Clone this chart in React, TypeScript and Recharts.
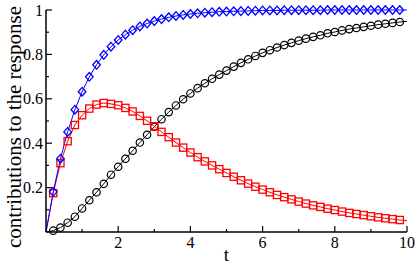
import React from "react";
import { LineChart, Line, XAxis, YAxis } from "recharts";

// time axis, step 0.2 (markers are drawn from 0.2 to 9.8)
const tValues = [
  0, 0.2, 0.4, 0.6, 0.8, 1, 1.2, 1.4, 1.6, 1.8, 2, 2.2, 2.4, 2.6, 2.8, 3, 3.2,
  3.4, 3.6, 3.8, 4, 4.2, 4.4, 4.6, 4.8, 5, 5.2, 5.4, 5.6, 5.8, 6, 6.2, 6.4, 6.6,
  6.8, 7, 7.2, 7.4, 7.6, 7.8, 8, 8.2, 8.4, 8.6, 8.8, 9, 9.2, 9.4, 9.6, 9.8, 10,
];

// blue diamonds - total response
const blueValues = [
  0, 0.181, 0.33, 0.451, 0.551, 0.632, 0.699, 0.753, 0.798, 0.835, 0.865, 0.889,
  0.909, 0.926, 0.939, 0.95, 0.959, 0.967, 0.973, 0.978, 0.982, 0.985, 0.988,
  0.99, 0.992, 0.993, 0.994, 0.995, 0.996, 0.997, 0.998, 0.998, 0.998, 0.999,
  0.999, 0.999, 0.999, 0.999, 0.999, 1, 1, 1, 1, 1, 1, 1, 1, 1, 1, 1, 1,
];

// red squares
const redValues = [
  0, 0.175, 0.31, 0.409, 0.482, 0.526, 0.556, 0.574, 0.581, 0.577, 0.571, 0.559,
  0.543, 0.523, 0.501, 0.476, 0.451, 0.427, 0.403, 0.38, 0.358, 0.337, 0.318,
  0.3, 0.283, 0.266, 0.249, 0.233, 0.218, 0.204, 0.191, 0.179, 0.167, 0.157,
  0.147, 0.137, 0.128, 0.12, 0.113, 0.105, 0.099, 0.092, 0.086, 0.081, 0.076,
  0.071, 0.066, 0.062, 0.058, 0.054, 0.051,
];

// black circles
const blackValues = [
  0, 0.006, 0.02, 0.042, 0.069, 0.106, 0.143, 0.179, 0.217, 0.258, 0.294, 0.33,
  0.366, 0.403, 0.438, 0.474, 0.508, 0.54, 0.57, 0.598, 0.624, 0.648, 0.67,
  0.69, 0.709, 0.727, 0.745, 0.762, 0.778, 0.793, 0.807, 0.819, 0.831, 0.842,
  0.852, 0.862, 0.871, 0.879, 0.886, 0.895, 0.901, 0.908, 0.914, 0.919, 0.924,
  0.929, 0.934, 0.938, 0.942, 0.946, 0.949,
];

const xTicks = [1, 2, 3, 4, 5, 6, 7, 8, 9, 10];
const xTickLabels = [2, 4, 6, 8, 10];
const yTicks = [0.1, 0.2, 0.3, 0.4, 0.5, 0.6, 0.7, 0.8, 0.9, 1];
const yTickLabels = [0.2, 0.4, 0.6, 0.8, 1];

const FONT = "Liberation Serif, Times New Roman, DejaVu Serif, serif";
const textStyle = { fontFamily: FONT };

const data = tValues.map((t, i) => ({
  t,
  blue: blueValues[i],
  red: redValues[i],
  black: blackValues[i],
}));

const noMarker = (p: any) => !p.payload || p.payload.t === 0 || p.payload.t === 10;

const Diamond = (p: any) => {
  if (noMarker(p)) return <g key={p.index} />;
  const { cx, cy } = p;
  return (
    <polygon
      key={p.index}
      points={`${cx},${cy - 4.3} ${cx + 3.8},${cy} ${cx},${cy + 4.3} ${cx - 3.8},${cy}`}
      fill="none"
      stroke="#0000ff"
      strokeWidth={1.3}
    />
  );
};

const Square = (p: any) => {
  if (noMarker(p)) return <g key={p.index} />;
  return (
    <rect
      key={p.index}
      x={p.cx - 3.6}
      y={p.cy - 3.6}
      width={7.2}
      height={7.2}
      fill="none"
      stroke="#ff0000"
      strokeWidth={1.3}
    />
  );
};

const Circle = (p: any) => {
  if (noMarker(p)) return <g key={p.index} />;
  return (
    <circle key={p.index} cx={p.cx} cy={p.cy} r={3.7} fill="none" stroke="#000" strokeWidth={1.2} />
  );
};

// ticks point into the frame; major ones are longer
const BottomTick = (p: any) => {
  const v = p.payload.value;
  const major = v % 2 === 0;
  return (
    <g>
      <line x1={p.x} y1={p.y} x2={p.x} y2={p.y - (major ? 6 : 3)} stroke="#000" strokeWidth={1.2} />
      {xTickLabels.includes(v) && (
        <text x={p.x} y={p.y + 16} textAnchor="middle" fontSize={16} style={textStyle} fill="#000">
          {v}
        </text>
      )}
    </g>
  );
};

const TopTick = (p: any) => {
  const major = p.payload.value % 2 === 0;
  return <line x1={p.x} y1={p.y} x2={p.x} y2={p.y + (major ? 6 : 3)} stroke="#000" strokeWidth={1.2} />;
};

const LeftTick = (p: any) => {
  const v = p.payload.value;
  const major = yTickLabels.includes(v);
  return (
    <g>
      <line x1={p.x} y1={p.y} x2={p.x + (major ? 6 : 3)} y2={p.y} stroke="#000" strokeWidth={1.2} />
      {major && (
        <text x={p.x - 3} y={p.y} dy="0.35em" textAnchor="end" fontSize={16} style={textStyle} fill="#000">
          {v === 1 ? "1" : String(v)}
        </text>
      )}
    </g>
  );
};

const RightTick = (p: any) => {
  const major = yTickLabels.includes(p.payload.value);
  return <line x1={p.x} y1={p.y} x2={p.x - (major ? 6 : 3)} y2={p.y} stroke="#000" strokeWidth={1.2} />;
};

export default function App() {
  const axisLine = { stroke: "#000", strokeWidth: 1.5 };
  return (
    <div style={{ position: "absolute", left: 0, top: 0, background: "#fff" }}>
      <LineChart width={415} height={264} data={data} margin={{ top: 10, right: 8, bottom: 0, left: 0 }}>
        <XAxis
          dataKey="t"
          type="number"
          domain={[0, 10]}
          ticks={xTicks}
          interval={0}
          height={32}
          tickSize={0}
          tickMargin={0}
          tickLine={false}
          axisLine={axisLine}
          tick={BottomTick}
          label={{
            content: (lp: any) => (
              <text
                x={lp.viewBox.x + lp.viewBox.width / 2}
                y={lp.viewBox.y + 29}
                textAnchor="middle"
                fontSize={19}
                style={textStyle}
                fill="#000"
              >
                t
              </text>
            ),
          }}
        />
        <XAxis
          xAxisId="top"
          orientation="top"
          dataKey="t"
          type="number"
          domain={[0, 10]}
          ticks={xTicks}
          interval={0}
          height={0}
          tickSize={0}
          tickMargin={0}
          tickLine={false}
          axisLine={axisLine}
          tick={TopTick}
        />
        <YAxis
          type="number"
          domain={[0, 1]}
          ticks={yTicks}
          interval={0}
          width={46}
          tickSize={0}
          tickMargin={0}
          tickLine={false}
          axisLine={axisLine}
          tick={LeftTick}
          label={{
            content: (lp: any) => {
              const cx = lp.viewBox.x + 14;
              const cy = lp.viewBox.y + lp.viewBox.height / 2 + 6;
              return (
                <text
                  x={cx}
                  y={cy}
                  transform={`rotate(-90 ${cx} ${cy})`}
                  textAnchor="middle"
                  dy="0.35em"
                  fontSize={21}
                  style={textStyle}
                  fill="#000"
                >
                  contributions to the response
                </text>
              );
            },
          }}
        />
        <YAxis
          yAxisId="right"
          orientation="right"
          type="number"
          domain={[0, 1]}
          ticks={yTicks}
          interval={0}
          width={0}
          tickSize={0}
          tickMargin={0}
          tickLine={false}
          axisLine={axisLine}
          tick={RightTick}
        />
        <Line dataKey="black" stroke="#000" strokeWidth={1} dot={Circle} isAnimationActive={false} />
        <Line dataKey="red" stroke="#ff0000" strokeWidth={1} dot={Square} isAnimationActive={false} />
        <Line dataKey="blue" stroke="#0000ff" strokeWidth={1} dot={Diamond} isAnimationActive={false} />
      </LineChart>
    </div>
  );
}
